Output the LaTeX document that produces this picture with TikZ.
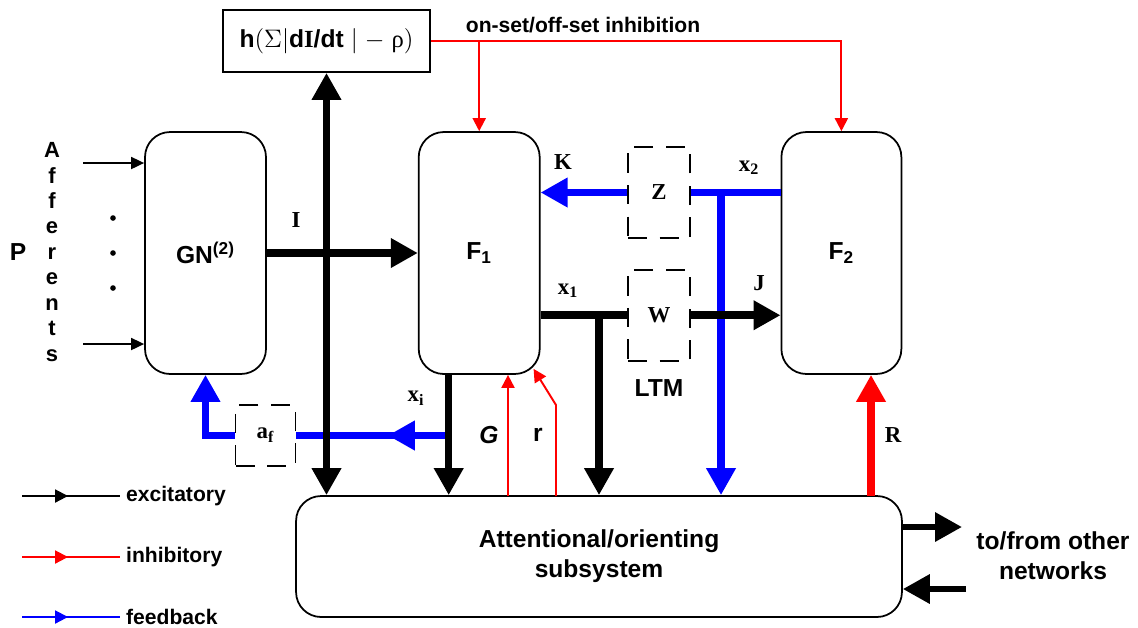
\documentclass[tikz,border=0pt]{standalone}
\usepackage{fontspec}
\setmainfont{Liberation Serif}
\setsansfont{Liberation Sans}
\usetikzlibrary{arrows.meta, positioning, calc, decorations.markings}
\definecolor{inhRed}{RGB}{255,0,0}
\definecolor{fbBlue}{RGB}{0,0,255}

\begin{document}
\begin{tikzpicture}[x=0.02cm, y=-0.02cm,
    layer/.style={rectangle, draw, line width=1pt, rounded corners=0.5cm, minimum width=2.42cm, minimum height=4.84cm, font=\sffamily\bfseries\fontsize{14}{16}\selectfont},
    ltmbox/.style={rectangle, draw, line width=1pt, dash pattern=on 11pt off 7pt, minimum width=1.24cm, minimum height=1.82cm, font=\rmfamily\bfseries\fontsize{13}{15}\selectfont},
    sysbox/.style={rectangle, draw, line width=1pt, rounded corners=0.5cm, minimum width=12.12cm, minimum height=2.42cm, align=center, font=\sffamily\bfseries\fontsize{14}{17}\selectfont},
    symlbl/.style={font=\rmfamily\bfseries\fontsize{13}{15}\selectfont},
    txtlbl/.style={font=\sffamily\bfseries\fontsize{12}{14}\selectfont},
    biglbl/.style={font=\sffamily\bfseries\fontsize{14}{17}\selectfont, align=center},
    thk/.style={line width=4.3pt},
    fb/.style={fbBlue, line width=4.3pt},
    inh/.style={inhRed, line width=1.1pt, >={Triangle[length=0.26cm, width=0.26cm]}},
    thn/.style={line width=1pt, >={Triangle[length=0.26cm, width=0.24cm]}},
    midarr/.style={postaction={decorate}, decoration={markings, mark=at position #1 with {\arrow{Triangle[length=0.26cm, width=0.26cm]}}}},
    bigmid/.style={postaction={decorate}, decoration={markings, mark=at position #1 with {\arrow{Triangle[length=0.54cm, width=0.56cm]}}}},
    >={Triangle[length=0.54cm, width=0.56cm]}
]
\useasboundingbox (0,0) rectangle (1138,627);

% layers
\node[layer] (gn) at (205.5,253) {GN\textsuperscript{(2)}};
\node[layer, right=3.02cm of gn] (f1) {F\textsubscript{1}};
\node[layer, right=4.8cm of f1, minimum width=2.4cm] (f2) {F\textsubscript{2}};
\node[sysbox] (attn) at (599,556.5) {Attentional/orienting\\subsystem};
\node[rectangle, draw, line width=1pt, minimum width=4.14cm, minimum height=1.24cm, font=\bfseries\fontsize{14}{16}\selectfont] (hfun) at (326.5,41)
    {{\sffamily h}$(\Sigma|${\sffamily d}I{\sffamily /dt}$\;|\;-\;${\mdseries ρ}$)$};

% LTM
\node[ltmbox] (z) at (659,192.5) {Z};
\node[ltmbox, below=0.6cm of z] (w) {W};
\node[ltmbox, minimum width=1.2cm, minimum height=1.22cm] (af) at (265.5,435.5) {a\textsubscript{f}};

% inputs
\node[biglbl] (p) at (18,252) {P};
\node[txtlbl, align=center, font=\sffamily\bfseries\fontsize{12.5}{14.5}\selectfont] (aff) at (52,252) {A\\f\\f\\e\\r\\e\\n\\t\\s};
\foreach \y in {218,253,288}
    \fill (113,\y) circle (1.6pt);
\coordinate (in1) at (83,163);
\coordinate (in2) at (83,344);
\draw[thn,->] (in1) -- (in1 -| gn.west);
\draw[thn,->] (in2) -- (in2 -| gn.west);

% inhibition from h
\draw[inh,->] (hfun.east) -| (f2.north);
\draw[inh,->] (hfun.east -| f1.north) -- (f1.north);
\node[txtlbl] (onset) at (583,25) {on-set/off-set inhibition};

% feedback
\coordinate (fx) at ($(f1.south)+(-30.5,0)$);
\draw[fb, bigmid=0.4] (fx |- af.east) -- (af.east);
\draw[fb,->] (af.west) -| (gn.south);
\draw[fb] (z.east -| f2.west) -- (z.east);
\draw[fb,->] (z.west) -- (z.west -| f1.east);
\coordinate (zj) at (721,192.5);
\draw[fb,->] (zj) -- (zj |- attn.north);

% excitatory
\draw[thk,->] (gn) -- (f1);
\draw[thk,<->] (hfun.south |- attn.north) -- (hfun.south);
\draw[thk,->] (fx) -- (fx |- attn.north);
\draw[thk] (f1.east |- w.west) -- (w.west);
\coordinate (wj) at (599,314);
\draw[thk,->] (wj) -- (wj |- attn.north);
\draw[thk,->] (w.east) -- (w.east -| f2.west);

% inhibitory from attentional subsystem
\coordinate (g0) at (508,496);
\coordinate (r0) at (556,496);
\coordinate (r1) at (871,496);
\draw[inh,->] (g0) -- (g0 |- f1.south);
\draw[inh,->] (r0) -- (556,405) -- ($(f1.south east)+(-7,-6)$);
\draw[inhRed, line width=4.3pt,->] (r1) -- (r1 |- f2.south);

% other networks
\coordinate (o1) at (962,527);
\coordinate (i1) at (966,589);
\draw[line width=3.6pt,->] (o1 -| attn.east) -- (o1);
\draw[line width=3.6pt,->] (i1) -- (i1 -| attn.east);
\node[biglbl] (net) at (1053,556) {to/from other\\networks};

% labels
\node[symlbl] (lI) at (296,220) {I};
\node[symlbl] (lK) at (563,162) {K};
\node[symlbl] (lx2) at (749,168) {x\textsubscript{2}};
\node[symlbl] (lx1) at (568,291) {x\textsubscript{1}};
\node[symlbl] (lJ) at (759,283) {J};
\node[symlbl] (lxi) at (416,398) {x\textsubscript{i}};
\node[symlbl] (lR) at (893,435) {R};
\node[biglbl] (ltm) at (659,388) {LTM};
\node[biglbl, font=\sffamily\bfseries\itshape\fontsize{14}{17}\selectfont] (lG) at (489,435) {G};
\node[biglbl] (lr) at (538,435) {r};

% legend
\foreach \y/\c/\t [count=\i] in {496/black/excitatory, 557/inhRed/inhibitory, 617/fbBlue/feedback} {
    \node[txtlbl, anchor=west] (lg\i) at (120,\y) {\t};
    \coordinate (ls\i) at (22,\y);
    \draw[\c, line width=1.1pt, midarr=0.47] (ls\i) -- (lg\i.west);
}
\end{tikzpicture}
\end{document}
